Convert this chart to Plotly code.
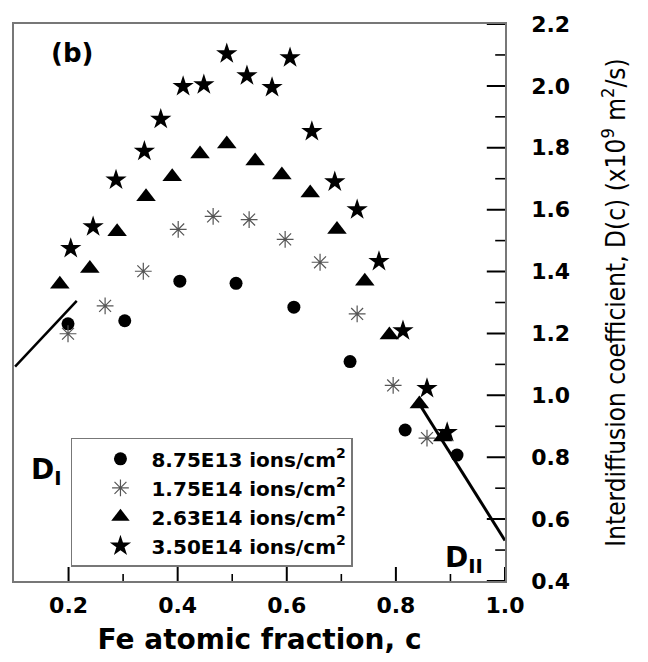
import plotly.graph_objects as go

# ---- data ----
c_circ = [0.199, 0.303, 0.404, 0.507, 0.613, 0.716, 0.817, 0.912]
d_circ = [1.231, 1.241, 1.369, 1.362, 1.285, 1.109, 0.888, 0.807]

c_ast = [0.199, 0.267, 0.337, 0.401, 0.465, 0.531, 0.597, 0.661, 0.729, 0.795, 0.857]
d_ast = [1.199, 1.289, 1.401, 1.536, 1.578, 1.568, 1.504, 1.430, 1.263, 1.032, 0.862]

c_tri = [0.184, 0.239, 0.289, 0.342, 0.390, 0.441, 0.490, 0.542, 0.591, 0.643,
         0.692, 0.743, 0.788, 0.843, 0.886]
d_tri = [1.359, 1.410, 1.529, 1.642, 1.706, 1.780, 1.812, 1.757, 1.712, 1.654,
         1.536, 1.369, 1.195, 0.972, 0.865]

c_star = [0.204, 0.245, 0.287, 0.339, 0.369, 0.410, 0.448, 0.490, 0.527, 0.573,
          0.606, 0.646, 0.688, 0.729, 0.769, 0.813, 0.857, 0.894]
d_star = [1.475, 1.545, 1.696, 1.789, 1.892, 1.998, 2.004, 2.104, 2.033, 1.995,
          2.091, 1.853, 1.690, 1.600, 1.433, 1.209, 1.022, 0.880]

line1_c = [0.102, 0.215]
line1_d = [1.093, 1.305]
line2_c = [0.843, 1.0]
line2_d = [0.972, 0.531]

series_names = ["8.75E13 ions/cm<sup>2</sup>", "1.75E14 ions/cm<sup>2</sup>",
                "2.63E14 ions/cm<sup>2</sup>", "3.50E14 ions/cm<sup>2</sup>"]
x_range = [0.1, 1.0]
y_range = [0.4, 2.2]
x_ticks = [0.2, 0.4, 0.6, 0.8, 1.0]
x_ticktext = ["0.2", "0.4", "0.6", "0.8", "1.0"]
x_minor = [0.3, 0.5, 0.7, 0.9]
y_ticks = [0.4, 0.6, 0.8, 1.0, 1.2, 1.4, 1.6, 1.8, 2.0, 2.2]
y_ticktext = ["0.4", "0.6", "0.8", "1.0", "1.2", "1.4", "1.6", "1.8", "2.0", "2.2"]
y_minor = [0.5, 0.7, 0.9, 1.1, 1.3, 1.5, 1.7, 1.9, 2.1]

BOLD = "DejaVu Sans"
NARROW = "Liberation Sans Narrow, DejaVu Sans Condensed, Arial Narrow, sans-serif"

fig = go.Figure()

# inside tick marks, as half-clipped line markers sitting on the axes
def tick_trace(xs, ys, symbol, size, width):
    return go.Scatter(x=xs, y=ys, mode="markers", showlegend=False, hoverinfo="skip",
                      cliponaxis=True,
                      marker=dict(symbol=symbol, size=size, color="black",
                                  line=dict(color="black", width=width)))

fig.add_trace(tick_trace(x_ticks, [y_range[0]] * len(x_ticks), "line-ns", 20, 2))
fig.add_trace(tick_trace(x_minor, [y_range[0]] * len(x_minor), "line-ns", 10, 1.6))
fig.add_trace(tick_trace([x_range[1]] * len(y_ticks), y_ticks, "line-ew", 26, 2))
fig.add_trace(tick_trace([x_range[1]] * len(y_minor), y_minor, "line-ew", 14, 1.6))

fig.add_trace(go.Scatter(x=line1_c, y=line1_d, mode="lines", showlegend=False,
                         line=dict(color="black", width=2.5)))
fig.add_trace(go.Scatter(x=line2_c, y=line2_d, mode="lines", showlegend=False,
                         line=dict(color="black", width=3)))

fig.add_trace(go.Scatter(x=c_circ, y=d_circ, mode="markers", name=series_names[0],
                         marker=dict(symbol="circle", size=13, color="black")))
fig.add_trace(go.Scatter(x=c_ast, y=d_ast, mode="markers", name=series_names[1],
                         marker=dict(symbol="asterisk-open", size=14, color="#555",
                                     line=dict(color="#555", width=1.2))))
fig.add_trace(go.Scatter(x=c_tri, y=d_tri, mode="markers", name=series_names[2],
                         marker=dict(symbol="triangle-up", size=17, color="black")))
fig.add_trace(go.Scatter(x=c_star, y=d_star, mode="markers", name=series_names[3],
                         marker=dict(symbol="star", size=16, color="black")))

fig.add_annotation(x=0.206, y=2.107, text="<b>(b)</b>", showarrow=False,
                   font=dict(family=BOLD, size=26, color="black"))
fig.add_annotation(x=0.160, y=0.755, text="<b>D<sub>I</sub></b>", showarrow=False,
                   font=dict(family=BOLD, size=28, color="black"))
fig.add_annotation(x=0.925, y=0.47, text="<b>D<sub>II</sub></b>", showarrow=False,
                   font=dict(family=BOLD, size=28, color="black"))

fig.update_layout(
    template="simple_white",
    width=648, height=662,
    margin=dict(l=14, r=143, t=23, b=78),
    paper_bgcolor="white", plot_bgcolor="white",
    legend=dict(x=0.116, y=0.257, xanchor="left", yanchor="top",
                bordercolor="#777", borderwidth=1.5, bgcolor="white",
                font=dict(family=BOLD, size=20, color="black", weight="bold"),
                indentation=17, itemwidth=52, tracegroupgap=0),
    xaxis=dict(range=x_range, tickmode="array", tickvals=x_ticks, ticktext=x_ticktext,
               ticks="", showline=True, linecolor="#777", linewidth=1.5, mirror=True,
               showgrid=False, zeroline=False,
               tickfont=dict(family=BOLD, size=22, color="black", weight="bold"),
               ticklabelstandoff=4,
               title=dict(text="<b>Fe atomic fraction, c</b>", standoff=12,
                          font=dict(family=BOLD, size=28, color="black"))),
    yaxis=dict(range=y_range, side="right", tickmode="array",
               tickvals=y_ticks, ticktext=y_ticktext,
               ticks="", showline=True, linecolor="#777", linewidth=1.5, mirror=True,
               showgrid=False, zeroline=False,
               tickfont=dict(family=BOLD, size=22, color="black", weight="bold"),
               ticklabelstandoff=20,
               title=dict(text="Interdiffusion coefficient, D(c) (x10<sup>9</sup> m<sup>2</sup>/s)",
                          standoff=38,
                          font=dict(family=NARROW, size=26, color="black"))),
)

fig.write_html("out.html")
